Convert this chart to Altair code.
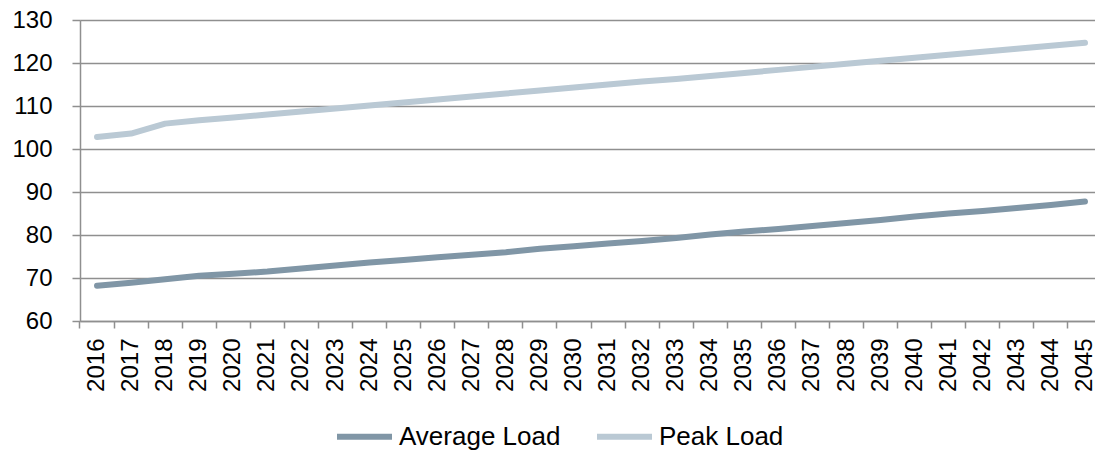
import altair as alt
import pandas as pd

years = [str(y) for y in range(2016, 2046)]

average_load = [68.2, 68.9, 69.7, 70.5, 71.0, 71.5, 72.2, 72.9, 73.6, 74.2,
                74.8, 75.4, 76.0, 76.8, 77.4, 78.0, 78.6, 79.3, 80.1, 80.8,
                81.4, 82.1, 82.8, 83.5, 84.3, 85.0, 85.6, 86.3, 87.0, 87.8]

peak_load = [102.8, 103.6, 105.9, 106.7, 107.3, 108.0, 108.7, 109.4, 110.1, 110.8,
             111.5, 112.2, 112.9, 113.6, 114.3, 115.0, 115.7, 116.3, 117.0, 117.7,
             118.4, 119.1, 119.8, 120.5, 121.2, 121.9, 122.6, 123.3, 124.0, 124.7]

series_names = ["Average Load", "Peak Load"]
series_colors = ["#8096a6", "#bac9d4"]

df = pd.DataFrame({
    "year": years * 2,
    "value": average_load + peak_load,
    "series": [series_names[0]] * len(years) + [series_names[1]] * len(years),
})

FONT = "Liberation Sans"
GRID = "#8f8f8f"

chart = (
    alt.Chart(df)
    .mark_line(strokeWidth=6, strokeCap="round", strokeJoin="round")
    .encode(
        x=alt.X(
            "year:O",
            sort=years,
            title=None,
            scale=alt.Scale(type="band", paddingInner=0, paddingOuter=0, range=[0, 1022]),
            axis=alt.Axis(
                bandPosition=0,
                labelAngle=-90,
                labelAlign="right",
                labelBaseline="middle",
                labelFont=FONT,
                labelFontSize=24,
                labelColor="#000000",
                labelPadding=10,
                tickSize=7,
                tickColor=GRID,
                tickWidth=1.5,
                domainColor=GRID,
                domainWidth=1.5,
                grid=False,
            ),
        ),
        y=alt.Y(
            "value:Q",
            title=None,
            scale=alt.Scale(domain=[60, 130], nice=False, zero=False),
            axis=alt.Axis(
                values=list(range(60, 131, 10)),
                labelFont=FONT,
                labelFontSize=24,
                labelColor="#000000",
                labelPadding=20,
                tickSize=8,
                tickColor=GRID,
                tickWidth=1.5,
                domainColor=GRID,
                domainWidth=1.5,
                gridColor=GRID,
                gridWidth=1.5,
            ),
        ),
        color=alt.Color(
            "series:N",
            scale=alt.Scale(domain=series_names, range=series_colors),
            legend=alt.Legend(
                title=None,
                orient="none",
                direction="horizontal",
                legendX=254,
                legendY=386,
                padding=0,
                symbolType="stroke",
                symbolSize=3025,
                symbolStrokeWidth=6,
                labelFont=FONT,
                labelFontSize=26,
                labelColor="#000000",
                labelOffset=4,
                labelLimit=0,
                columnPadding=24,
            ),
        ),
    )
    .properties(
        width=1015,
        height=301,
        autosize=alt.AutoSizeParams(type="none"),
        padding={"left": 80, "top": 20, "right": 0, "bottom": 129},
    )
    .configure_view(stroke=None)
    .configure(background="#ffffff")
)

chart.save("out.html", embed_options={"renderer": "svg", "actions": False})
